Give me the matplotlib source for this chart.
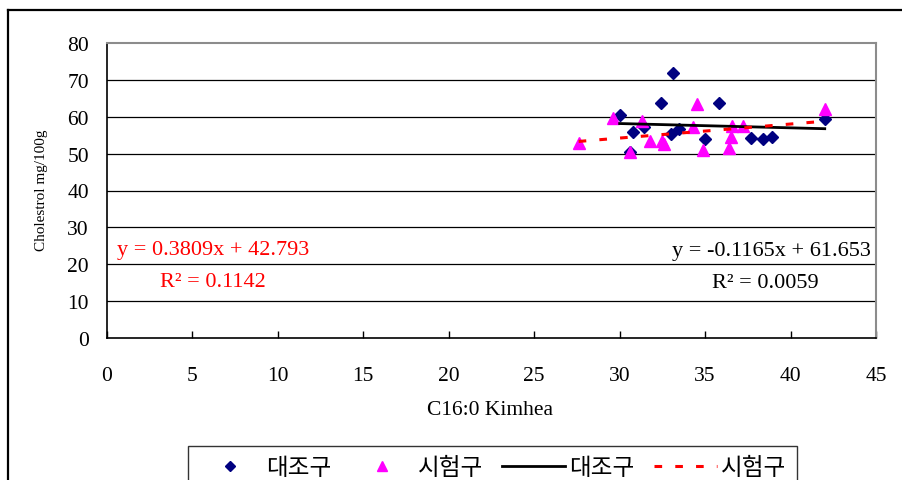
import matplotlib
matplotlib.use("Agg")
import matplotlib.pyplot as plt
from matplotlib.lines import Line2D
from matplotlib.font_manager import FontProperties
import numpy as np

plt.rcParams['font.family'] = ['Liberation Serif', 'DejaVu Serif']

# ─── data ────────────────────────────────────────────────────────
ctrl_x = [33.1, 32.4, 35.8, 30.0, 30.8, 31.4, 33.0, 33.5, 35.0, 37.7, 38.4, 38.9, 42.0, 30.6]
ctrl_y = [72.0, 63.8, 63.8, 60.5, 55.8, 57.1, 55.3, 56.7, 53.9, 54.2, 53.9, 54.5, 59.4, 50.4]
test_x = [27.6, 29.6, 31.3, 30.6, 31.8, 32.5, 32.6, 34.5, 34.3, 34.9, 36.4, 36.5, 36.6, 37.2, 42.0]
test_y = [52.9, 59.6, 58.9, 50.4, 53.4, 53.5, 52.6, 63.5, 57.1, 51.1, 51.4, 54.4, 57.6, 57.6, 62.1]

# trendline coefficients as printed on the chart: slope, intercept, R2
ctrl_fit = [-0.1165, 61.653, 0.0059]
test_fit = [0.3809, 42.793, 0.1142]

labels = ["대조구", "시험구", "대조구", "시험구"]
x_ticks = [0, 5, 10, 15, 20, 25, 30, 35, 40, 45]
y_ticks = [0, 10, 20, 30, 40, 50, 60, 70, 80]

W, H = 902, 481
fig = plt.figure(figsize=(W / 100, H / 100), dpi=100, facecolor="white")
ax = fig.add_axes([107 / W, 1 - 339 / H, (876 - 107) / W, (339 - 44) / H])

ax.set_xlim(0, 45)
ax.set_ylim(0, 80)
ax.set_xticks(x_ticks)
ax.set_yticks(y_ticks)
ax.tick_params(axis="x", direction="in", length=5, width=1, pad=20, labelsize=15.5)
ax.tick_params(axis="y", direction="in", length=0, pad=13, labelsize=15.5)
for y in y_ticks[1:-1]:
    ax.axhline(y, color="black", lw=0.9, zorder=1)

for s in ["left", "bottom"]:
    ax.spines[s].set_color("black"); ax.spines[s].set_linewidth(1.2)
for s in ["top", "right"]:
    ax.spines[s].set_color("#8c8c8c"); ax.spines[s].set_linewidth(1.5)

# scatter series
ax.plot(ctrl_x, ctrl_y, ls="none", marker="D", ms=6.5, color="#000080", zorder=3)
ax.plot(test_x, test_y, ls="none", marker="^", ms=9, color="#ff00ff", mec="#ff00ff", zorder=4)

# trendlines
cx = np.array([min(ctrl_x), max(ctrl_x)])
tx = np.array([min(test_x), max(test_x)])
ax.plot(cx, ctrl_fit[0] * cx + ctrl_fit[1], color="black", lw=2, zorder=5)
ax.plot(tx, test_fit[0] * tx + test_fit[1], color="#ff0000", lw=2.2, dashes=(2.5, 4.3), zorder=6)

# equations
fs = 16
ax.text(0.6, 24.1, f"y = {test_fit[0]}x + {test_fit[1]}", color="#ff0000", fontsize=fs,
        ha="left", va="center")
ax.text(3.1, 15.4, f"R² = {test_fit[2]}", color="#ff0000", fontsize=fs, ha="left", va="center")
ax.text(44.7, 23.6, f"y = {ctrl_fit[0]}x + {ctrl_fit[1]}", color="black", fontsize=fs,
        ha="right", va="center")
ax.text(35.4, 15.0, f"R² = {ctrl_fit[2]:.4f}", color="black", fontsize=fs, ha="left", va="center")

# axis titles
fig.text(490 / W, 1 - 411 / H, "C16:0 Kimhea", fontsize=15.5, ha="center", va="center")
fig.text(42 / W, 1 - 190 / H, "Cholestrol mg/100g", fontsize=11, rotation=90,
         ha="center", va="center")

# outer chart frame (left and top edges visible)
fig.add_artist(Line2D([8 / W, 8 / W], [0, 1 - 11 / H], color="black", lw=1.6,
                      transform=fig.transFigure))
fig.add_artist(Line2D([8 / W, 1], [1 - 11 / H, 1 - 11 / H], color="black", lw=1.6,
                      transform=fig.transFigure))

# legend
handles = [
    Line2D([], [], ls="none", marker="D", ms=5, color="#000080"),
    Line2D([], [], ls="none", marker="^", ms=7, color="#ff00ff"),
    Line2D([], [], color="black", lw=2),
    Line2D([], [], color="#ff0000", lw=2.2, dashes=(2.5, 4.3)),
]
kr = FontProperties(family=["Noto Sans CJK KR", "DejaVu Sans"], size=17)
leg = fig.legend(handles, labels, loc="upper left", bbox_to_anchor=(188 / W, 1 - 447 / H),
                 ncol=4, prop=kr, frameon=True, fancybox=False, edgecolor="black",
                 borderaxespad=0, borderpad=0.42, handlelength=2.7, handletextpad=0.17,
                 columnspacing=0.8)
leg.get_frame().set_linewidth(1.0)

fig.savefig("out.png", dpi=100, facecolor="white")
